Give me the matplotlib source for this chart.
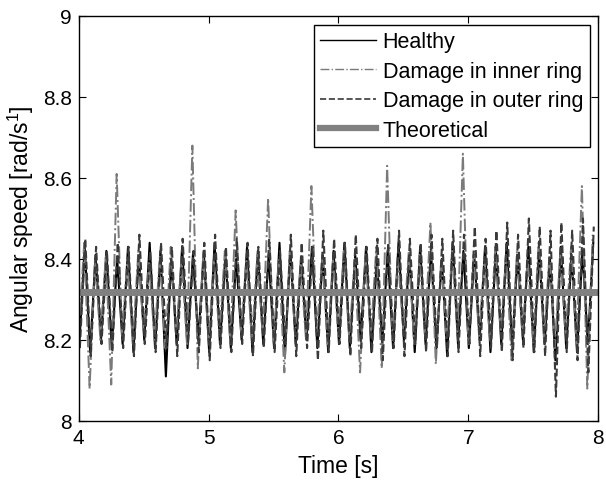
import numpy as np
import matplotlib
matplotlib.use("Agg")
import matplotlib.pyplot as plt

plt.rcParams['font.family'] = ['Liberation Sans', 'DejaVu Sans']
plt.rcParams['mathtext.fontset'] = 'custom'
plt.rcParams['mathtext.rm'] = 'Liberation Sans'
plt.rcParams['mathtext.it'] = 'Liberation Sans'

# Signal read as one peak and one trough per shaft cycle (about 12 Hz, 48 cycles in 4..8 s)
t_start = 4.0
t_end = 8.0
n_cycles = 48

healthy_peak = [8.43, 8.41, 8.42, 8.40, 8.43, 8.41, 8.44, 8.42, 8.40, 8.43, 8.41, 8.42,
                8.44, 8.41, 8.40, 8.43, 8.42, 8.41, 8.44, 8.42, 8.40, 8.43, 8.41, 8.42,
                8.44, 8.41, 8.43, 8.40, 8.42, 8.44, 8.41, 8.43, 8.42, 8.40, 8.44, 8.42,
                8.41, 8.43, 8.42, 8.44, 8.41, 8.43, 8.42, 8.40, 8.43, 8.41, 8.42, 8.44]
healthy_trough = [8.19, 8.17, 8.20, 8.18, 8.19, 8.17, 8.20, 8.18, 8.11, 8.19, 8.18, 8.20,
                  8.17, 8.19, 8.18, 8.20, 8.17, 8.19, 8.18, 8.16, 8.19, 8.20, 8.18, 8.17,
                  8.19, 8.18, 8.20, 8.17, 8.19, 8.18, 8.20, 8.17, 8.19, 8.18, 8.16, 8.19,
                  8.18, 8.20, 8.17, 8.19, 8.18, 8.20, 8.17, 8.19, 8.15, 8.18, 8.17, 8.19]

inner_peak = [8.44, 8.40, 8.41, 8.61, 8.40, 8.42, 8.39, 8.41, 8.43, 8.40, 8.68, 8.41,
              8.40, 8.42, 8.52, 8.40, 8.41, 8.55, 8.40, 8.42, 8.39, 8.58, 8.41, 8.40,
              8.42, 8.40, 8.41, 8.43, 8.63, 8.40, 8.42, 8.41, 8.49, 8.40, 8.42, 8.66,
              8.41, 8.40, 8.43, 8.41, 8.42, 8.40, 8.44, 8.41, 8.42, 8.43, 8.58, 8.46]
inner_trough = [8.21, 8.08, 8.20, 8.09, 8.21, 8.19, 8.22, 8.20, 8.18, 8.21, 8.19, 8.13,
                8.20, 8.21, 8.19, 8.22, 8.20, 8.21, 8.19, 8.12, 8.21, 8.20, 8.22, 8.19,
                8.21, 8.20, 8.12, 8.21, 8.13, 8.20, 8.22, 8.19, 8.21, 8.14, 8.20, 8.22,
                8.19, 8.21, 8.20, 8.22, 8.15, 8.21, 8.19, 8.20, 8.18, 8.21, 8.19, 8.08]

outer_peak = [8.45, 8.43, 8.42, 8.44, 8.43, 8.46, 8.42, 8.44, 8.43, 8.45, 8.42, 8.44,
              8.46, 8.43, 8.45, 8.44, 8.43, 8.45, 8.42, 8.46, 8.44, 8.43, 8.47, 8.45,
              8.44, 8.46, 8.43, 8.45, 8.44, 8.47, 8.45, 8.44, 8.46, 8.45, 8.47, 8.46,
              8.48, 8.45, 8.47, 8.49, 8.46, 8.50, 8.48, 8.47, 8.49, 8.47, 8.50, 8.48]
outer_trough = [8.18, 8.16, 8.19, 8.17, 8.18, 8.16, 8.19, 8.17, 8.18, 8.16, 8.19, 8.17,
                8.15, 8.18, 8.17, 8.19, 8.16, 8.18, 8.17, 8.19, 8.16, 8.18, 8.15, 8.17,
                8.19, 8.16, 8.18, 8.17, 8.15, 8.18, 8.16, 8.19, 8.17, 8.18, 8.16, 8.17,
                8.19, 8.16, 8.18, 8.17, 8.15, 8.18, 8.17, 8.16, 8.06, 8.17, 8.15, 8.12]

theoretical = 8.318


def zigzag(peaks, troughs, shift):
    # alternate trough / peak samples, half a cycle apart
    period = (t_end - t_start) / n_cycles
    k = np.arange(n_cycles)
    t = np.empty(2 * n_cycles)
    y = np.empty(2 * n_cycles)
    t[0::2] = t_start + (k + shift) * period
    t[1::2] = t_start + (k + 0.5 + shift) * period
    y[0::2] = troughs
    y[1::2] = peaks
    return t, y


fig = plt.figure(figsize=(6.06, 4.81), dpi=100)
ax = fig.add_axes([0.130, 0.1227, 0.857, 0.842])

t_h, y_h = zigzag(healthy_peak, healthy_trough, 0.05)
t_i, y_i = zigzag(inner_peak, inner_trough, 0.0)
t_o, y_o = zigzag(outer_peak, outer_trough, 0.1)

ax.plot(t_h, y_h, color='black', lw=1.5)
ax.plot(t_i, y_i, color='#7a7a7a', lw=1.4, ls='-.')
ax.plot(t_o, y_o, color='#3a3a3a', lw=1.5, ls='--')
ax.plot([t_start, t_end], [theoretical, theoretical], color='#808080', lw=5)

# legend handles drawn thinner, as in the original figure
h1, = ax.plot([], [], color='black', lw=1.0)
h2, = ax.plot([], [], color='#7a7a7a', lw=1.0, ls='-.')
h3, = ax.plot([], [], color='#3a3a3a', lw=1.2, ls='--')
h4, = ax.plot([], [], color='#808080', lw=4.5)

ax.set_xlim(4, 8)
ax.set_ylim(8, 9)
ax.set_xticks([4, 5, 6, 7, 8])
ax.set_yticks([8, 8.2, 8.4, 8.6, 8.8, 9])
ax.set_yticklabels(['8', '8.2', '8.4', '8.6', '8.8', '9'])
ax.tick_params(direction='in', top=True, right=True, length=5, labelsize=15)
ax.tick_params(axis='x', pad=5)
ax.tick_params(axis='y', pad=5)
for s in ax.spines.values():
    s.set_linewidth(1.0)

ax.set_xlabel('Time [s]', fontsize=16.5, labelpad=5)
ax.set_ylabel('Angular speed [rad/s$^{1}$]', fontsize=16.5)
ax.yaxis.set_label_coords(-0.083, 0.5)

leg = ax.legend([h1, h2, h3, h4],
                ['Healthy', 'Damage in inner ring', 'Damage in outer ring', 'Theoretical'],
                loc='upper right', fontsize=15.5, handlelength=2.6, handletextpad=0.3,
                labelspacing=0.4, borderpad=0.3, borderaxespad=0.4, fancybox=False,
                framealpha=1, edgecolor='black')
leg.get_frame().set_linewidth(1.0)

fig.savefig('out.png', dpi=100)
